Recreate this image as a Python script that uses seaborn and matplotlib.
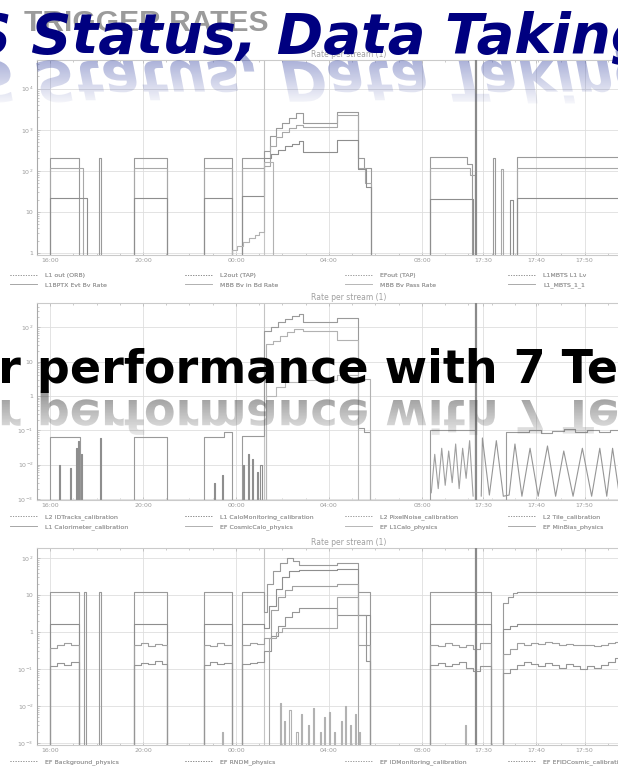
import matplotlib
matplotlib.use("Agg")
import numpy as np
import matplotlib.pyplot as plt
import seaborn as sns
from matplotlib.textpath import TextPath
from matplotlib.font_manager import FontProperties
from matplotlib.patches import PathPatch
from matplotlib.transforms import Affine2D
from matplotlib.lines import Line2D
from matplotlib.ticker import MultipleLocator

sns.set_theme(style="white")
plt.rcParams["font.family"] = ["DejaVu Sans"]

W, H, DPI = 618, 771, 100

# ---------------- time axis (hours, 24 = midnight) ----------------
hour_ticks = [16, 20, 24, 28, 32, 34.62, 36.9, 39.0]
hour_labels = ["16:00", "20:00", "00:00", "04:00", "08:00", "17:30", "17:40", "17:50"]
run_start = 25.2
view_split = 34.32

# ---------------- panel 1: level rates ----------------
OFF1 = 0.5
l1out_t = [15.4, 16.0, 17.25, 18.1, 18.2, 19.61, 21.03, 22.62, 23.83, 24.26, 25.2, 25.45, 25.7, 26.0,
           26.3, 26.6, 26.9, 28.34, 29.25, 29.5, 29.8, 32.34, 33.95, 34.15, 35.05, 35.15, 36.1, 40.6]
l1out_v = [OFF1, 210, OFF1, 210, OFF1, 205, OFF1, 205, OFF1, 210, 300, 700, 1100, 1500,
           1900, 2500, 1480, 2750, 200, 120, OFF1, 220, 150, OFF1, 200, OFF1, 215, 215]
l2out_t = [15.4, 16.0, 17.4, 19.61, 21.03, 22.62, 23.83, 24.26, 25.2, 25.45, 25.7, 26.0, 26.3,
           26.6, 26.9, 28.34, 29.25, 29.55, 29.8, 32.34, 34.06, 34.3, 35.4, 35.5, 36.1, 40.6]
l2out_v = [OFF1, 118, OFF1, 115, OFF1, 115, OFF1, 118, 130, 400, 650, 900, 1100,
           1300, 1180, 2300, 120, 50, OFF1, 118, 80, OFF1, 110, OFF1, 118, 118]
efout_t = [15.4, 16.0, 17.6, 19.61, 21.03, 22.62, 23.83, 24.26, 25.2, 25.5, 25.8, 26.1, 26.4,
           26.7, 26.9, 28.34, 29.25, 29.6, 29.8, 32.34, 34.2, 35.8, 35.9, 36.1, 40.6]
efout_v = [OFF1, 22, OFF1, 22, OFF1, 22, OFF1, 25, 200, 260, 330, 400, 450,
           520, 290, 570, 110, 40, OFF1, 21, OFF1, 20, OFF1, 22, 22]
mbts_t = [15.4, 23.83, 24.05, 24.3, 24.55, 24.8, 25.0, 25.2, 25.6]
mbts_v = [OFF1, 1.2, 1.5, 1.9, 2.3, 2.8, 3.3, 165, OFF1]

legend_p1 = ["L1 out (ORB)", "L1BPTX Evt Bv Rate", "L2out (TAP)", "MBB Bv in Bd Rate",
             "EFout (TAP)", "MBB Bv Pass Rate", "L1MBTS L1 Lv", "L1_MBTS_1_1"]

# ---------------- panel 2: calibration streams ----------------
OFF2 = 10 ** -3.4
idtracks_t = [15.4, 16.0, 17.3, 19.61, 21.03, 22.62, 23.5, 23.83, 24.26, 25.2, 25.5, 25.8, 26.1, 26.4,
              26.7, 26.9, 28.34, 29.25, 29.5, 29.76, 32.34, 34.3, 35.6, 36.6, 37.1, 37.6, 38.1, 38.6,
              39.1, 39.6, 40.1, 40.6]
idtracks_v = [OFF2, 0.063, OFF2, 0.063, OFF2, 0.063, 0.09, OFF2, 0.07, 79, 100, 140, 180, 220,
              250, 145, 190, 0.12, 0.09, OFF2, 0.1, OFF2, 0.09, 0.1, 0.085, 0.095, 0.11, 0.09,
              0.1, 0.088, 0.1, 0.1]
calomon_t = [16.40, 16.85, 17.10, 17.20, 17.32, 18.15, 23.05, 23.40, 24.30, 24.50, 24.70, 24.90, 25.05]
calomon_v = [0.010, 0.008, 0.030, 0.050, 0.020, 0.060, 0.003, 0.005, 0.010, 0.020, 0.015, 0.006, 0.010]
pixnoise_t = [32.40, 32.55, 32.70, 32.85, 33.00, 33.15, 33.30, 33.45, 33.60, 33.75, 33.90, 34.05, 34.20]
pixnoise_v = [0.0015, 0.020, 0.0020, 0.030, 0.0025, 0.025, 0.0030, 0.040, 0.0020, 0.030, 0.0040, 0.050, 0.0012]
tile_t = [34.55, 34.60, 34.90, 35.20, 35.50, 35.75, 36.00, 36.30, 36.65, 37.00, 37.40, 37.75,
          38.10, 38.50, 38.90, 39.30, 39.65, 39.95, 40.20, 40.50]
tile_v = [0.0012, 0.06, 0.0013, 0.05, 0.0012, 0.0013, 0.04, 0.0012, 0.03, 0.0012, 0.035, 0.0012,
          0.025, 0.0012, 0.03, 0.0012, 0.03, 0.0012, 0.03, 0.0012]
cosmiccalo_t = [15.4, 25.3, 25.6, 25.9, 26.2, 26.5, 26.9, 28.34, 29.25, 29.76]
cosmiccalo_v = [OFF2, 32, 40, 56, 71, 89, 80, 44, 3.2, OFF2]
l1calo_t = [15.4, 25.3, 25.7, 26.1, 26.9, 28.34, 29.25]
l1calo_v = [OFF2, 1.0, 1.8, 2.5, 3.0, 4.0, OFF2]

legend_p2 = ["L2 IDTracks_calibration", "L1 Calorimeter_calibration",
             "L1 CaloMonitoring_calibration", "EF CosmicCalo_physics",
             "L2 PixelNoise_calibration", "EF L1Calo_physics",
             "L2 Tile_calibration", "EF MinBias_physics"]

# ---------------- panel 3: physics streams ----------------
OFF3 = 10 ** -3.5
bkg_t = [15.4, 16.0, 17.25, 17.45, 17.55, 18.1, 18.2, 19.61, 21.03, 22.62, 23.83, 24.26, 25.2, 25.35,
         25.6, 25.9, 26.2, 26.45, 26.7, 28.34, 29.25, 29.76, 32.34, 34.95, 35.5, 35.7, 35.9, 36.1, 40.6]
bkg_v = [OFF3, 12, OFF3, 12, OFF3, 12, OFF3, 12, OFF3, 12, OFF3, 12, 3.5, 20,
         45, 75, 100, 85, 65, 75, 12, OFF3, 12, OFF3, 6, 9, 11, 12, 12]
rndm_t = [15.4, 16.0, 17.25, 19.61, 21.03, 22.62, 23.83, 24.26, 25.2, 25.4, 25.7, 26.0, 26.3, 26.7,
          28.34, 29.25, 29.76, 32.34, 34.95, 35.5, 35.8, 36.1, 40.6]
rndm_v = [OFF3, 1.6, OFF3, 1.6, OFF3, 1.6, OFF3, 1.6, 1.3, 5, 15, 30, 45, 47,
          50, 2.9, OFF3, 1.6, OFF3, 1.2, 1.5, 1.7, 1.7]
idmon_t = [15.4, 16.0, 16.3, 16.6, 16.9, 17.25, 19.61, 19.9, 20.2, 20.5, 20.8, 21.03,
           22.62, 22.9, 23.2, 23.5, 23.83, 24.26, 24.6, 24.9, 25.2, 25.5, 25.8, 26.1, 26.4, 26.7,
           28.34, 29.25, 29.76, 32.34, 32.7, 33.0, 33.3, 33.6, 33.9, 34.2, 34.5, 34.95,
           35.5, 35.8, 36.1, 36.4, 36.7, 37.0, 37.3, 37.6, 37.9, 38.2, 38.5, 38.8, 39.1, 39.4,
           39.7, 40.0, 40.3, 40.6]
idmon_v = [OFF3, 0.38, 0.45, 0.5, 0.44, OFF3, 0.45, 0.5, 0.43, 0.48, 0.45, OFF3,
           0.45, 0.42, 0.5, 0.46, OFF3, 0.44, 0.5, 0.47, 0.7, 4, 9, 14, 18, 18,
           20, 0.45, OFF3, 0.45, 0.42, 0.5, 0.46, 0.4, 0.44, 0.35, 0.5, OFF3,
           0.25, 0.35, 0.5, 0.45, 0.52, 0.47, 0.55, 0.5, 0.45, 0.48, 0.44, 0.46, 0.45, 0.42,
           0.45, 0.5, 0.55, 0.55]
efid_t = [15.4, 16.0, 16.3, 16.6, 16.9, 17.25, 19.61, 19.9, 20.2, 20.5, 20.8, 21.03,
          22.62, 22.9, 23.2, 23.5, 23.83, 24.26, 24.6, 24.9, 25.2, 25.5, 25.8, 26.1, 26.4, 26.7,
          28.34, 29.25, 29.6, 29.76, 32.34, 32.7, 33.0, 33.3, 33.6, 33.9, 34.2, 34.5, 34.95,
          35.5, 35.8, 36.1, 36.4, 36.7, 37.0, 37.3, 37.6, 37.9, 38.2, 38.5, 38.8, 39.1, 39.4,
          39.7, 40.0, 40.3, 40.6]
efid_v = [OFF3, 0.12, 0.15, 0.13, 0.16, OFF3, 0.13, 0.15, 0.14, 0.17, 0.14, OFF3,
          0.13, 0.16, 0.14, 0.15, OFF3, 0.14, 0.15, 0.16, 0.3, 0.8, 1.5, 2.5, 3.5, 4.4,
          2.9, 2.9, 0.17, OFF3, 0.13, 0.15, 0.12, 0.14, 0.16, 0.11, 0.09, 0.12, OFF3,
          0.08, 0.1, 0.13, 0.16, 0.14, 0.12, 0.15, 0.13, 0.11, 0.14, 0.12, 0.1, 0.12, 0.11,
          0.13, 0.16, 0.2, 0.2]
standby_t = [15.4, 25.4, 25.7, 26.0, 26.7, 28.34, 29.25]
standby_v = [OFF3, 0.7, 1.0, 1.3, 1.3, 9, OFF3]
muons_t = [23.4, 25.9, 26.05, 26.3, 26.6, 26.8, 27.1, 27.3, 27.6, 27.8, 28.0, 28.2, 28.5, 28.7,
           28.9, 29.1, 29.3, 33.85]
muons_v = [0.002, 0.012, 0.004, 0.008, 0.002, 0.006, 0.003, 0.009, 0.002, 0.005, 0.007, 0.002,
           0.004, 0.01, 0.003, 0.006, 0.002, 0.003]

# only the first legend row of the bottom panel fits on the page
legend_p3 = ["EF Background_physics", "EF RNDM_physics",
             "EF IDMonitoring_calibration", "EF EFIDCosmic_calibration"]

GREYS = ["#9a9a9a", "#a8a8a8", "#8e8e8e", "#b2b2b2", "#a0a0a0", "#b8b8b8", "#969696", "#acacac"]


def pulses(times, heights, floor, width=0.05):
    t, v = [15.4], [floor]
    for a, h in zip(times, heights):
        t += [a, a + width]
        v += [h, floor]
    return t, v


def rect(top_px, bottom_px, left_px=37, right_px=660):
    return [left_px / W, 1 - bottom_px / H, (right_px - left_px) / W, (bottom_px - top_px) / H]


def draw(ax, t, v, color, step=True, lw=0.8):
    kw = {"drawstyle": "steps-post"} if step else {}
    sns.lineplot(x=t, y=v, ax=ax, color=color, lw=lw, estimator=None, sort=False,
                 legend=False, **kw)


def style(ax, ylim, yticks, ylabels):
    ax.set_yscale("log")
    ax.set_xlim(15.44, 42.24)
    ax.set_ylim(*ylim)
    ax.set_yticks(yticks)
    ax.set_yticklabels(ylabels)
    ax.set_xticks(hour_ticks)
    ax.set_xticklabels(hour_labels)
    ax.xaxis.set_minor_locator(MultipleLocator(1))
    ax.set_xlabel("")
    ax.set_ylabel("")
    ax.grid(True, which="major", color="#dedede", lw=0.6)
    ax.tick_params(axis="both", which="both", direction="in", colors="#b4b4b4",
                   labelcolor="#9c9c9c", labelsize=4.5, top=True, bottom=True, left=True,
                   length=2.5, width=0.5, pad=2.5)
    ax.tick_params(which="minor", length=1.4)
    for s in ax.spines.values():
        s.set_color("#cacaca")
        s.set_linewidth(0.8)
    ax.spines["left"].set_color("#a9a9a9")
    ax.axvline(run_start, color="#c4c4c4", lw=0.8, zorder=1)
    ax.axvline(view_split, color="#8a8a8a", lw=1.6, zorder=3)
    ax.set_title("Rate per stream (1)", fontsize=5.5, color="#a0a0a0", pad=2)


def legend_block(fig, labels, colors, top_px, rows=2):
    xs = [10, 185, 345, 508]
    for c in range(4):
        entries = labels[rows * c:rows * c + rows]
        styles = [":", "-"][:rows]
        hs = [Line2D([], [], color=colors[2 * c + k], lw=0.7, ls=styles[k])
              for k in range(len(entries))]
        leg = fig.legend(hs, entries, loc="upper left",
                         bbox_to_anchor=(xs[c] / W, 1 - top_px / H), frameon=False,
                         fontsize=4.5, handlelength=4.3, handletextpad=1.3, borderpad=0,
                         borderaxespad=0, labelspacing=0.6, labelcolor="#9c9c9c")
        fig.add_artist(leg)


fig = plt.figure(figsize=(W / DPI, H / DPI), dpi=DPI)
fig.patch.set_facecolor("white")

# panel 1
ax1 = fig.add_axes(rect(60, 255))
for (t, v), c in zip([(l1out_t, l1out_v), (l2out_t, l2out_v), (efout_t, efout_v),
                      (mbts_t, mbts_v)], GREYS):
    draw(ax1, t, v, c)
style(ax1, (10 ** -0.05, 10 ** 4.7), [1, 10, 1e2, 1e3, 1e4],
      ["1", "10", "$10^{2}$", "$10^{3}$", "$10^{4}$"])
legend_block(fig, legend_p1, GREYS, 273)

# panel 2
ax2 = fig.add_axes(rect(303, 500))
draw(ax2, idtracks_t, idtracks_v, GREYS[0])
ct, cv = pulses(calomon_t, calomon_v, OFF2)
draw(ax2, ct, cv, GREYS[2])
draw(ax2, pixnoise_t, pixnoise_v, GREYS[4], step=False)
draw(ax2, tile_t, tile_v, GREYS[6], step=False)
draw(ax2, cosmiccalo_t, cosmiccalo_v, GREYS[3])
draw(ax2, l1calo_t, l1calo_v, GREYS[5])
style(ax2, (10 ** -3.03, 10 ** 2.71), [1e-3, 1e-2, 1e-1, 1, 10, 1e2],
      ["$10^{-3}$", "$10^{-2}$", "$10^{-1}$", "1", "10", "$10^{2}$"])
legend_block(fig, legend_p2, GREYS, 514)

# panel 3
ax3 = fig.add_axes(rect(548, 745))
draw(ax3, bkg_t, bkg_v, GREYS[0])
draw(ax3, rndm_t, rndm_v, GREYS[2])
draw(ax3, idmon_t, idmon_v, GREYS[4])
draw(ax3, efid_t, efid_v, GREYS[6])
draw(ax3, standby_t, standby_v, GREYS[1])
mt, mv = pulses(muons_t, muons_v, OFF3)
draw(ax3, mt, mv, GREYS[3])
style(ax3, (10 ** -3.05, 10 ** 2.27), [1e-3, 1e-2, 1e-1, 1, 10, 1e2],
      ["$10^{-3}$", "$10^{-2}$", "$10^{-1}$", "1", "10", "$10^{2}$"])
legend_block(fig, legend_p3, GREYS, 759, rows=1)

# ---------------- slide headings over the charts ----------------
ov = fig.add_axes([0, 0, 1, 1], zorder=10)
ov.set_xlim(0, W)
ov.set_ylim(H, 0)
ov.set_axis_off()

fp_head = FontProperties(family="Liberation Sans", weight="bold")
ov.text(24, 31, "TRIGGER RATES", fontproperties=fp_head, fontsize=21.6, color="#9b9b9b",
        va="baseline", ha="left", zorder=1)

title_full = "ATLAS Status, Data Taking, Performance"
title_tail = "Status, Data Taking, Performance"
sub_full = "Trigger performance with 7 TeV collisions"
sub_tail = "r performance with 7 TeV collisions"

fp_title = FontProperties(family="DejaVu Sans", weight="bold", style="oblique")
fp_sub = FontProperties(family="DejaVu Sans", weight="bold")
EM_TITLE, EM_SUB = 56, 46

renderer = fig.canvas.get_renderer()


def place(full, tail, x_tail, baseline, fp, em, color):
    probe = ov.text(0, baseline, tail, fontproperties=fp, fontsize=em * 72 / DPI,
                    va="baseline", ha="left")
    w_tail = probe.get_window_extent(renderer).width
    probe.remove()
    txt = ov.text(x_tail + w_tail, baseline, full, fontproperties=fp, fontsize=em * 72 / DPI,
                  va="baseline", ha="right", color=color, zorder=4)
    return txt


def mirror(txt, s, fp, em, y_mirror, depth, rgb, a0):
    bb = txt.get_window_extent(renderer)
    tp = TextPath((0, 0), s, size=em, prop=fp)
    ext = tp.get_extents()
    sx = bb.width / ext.width
    tr = Affine2D().translate(-ext.x0, 0).scale(sx, sx).translate(bb.x0, y_mirror)
    patch = PathPatch(tr.transform_path(tp), facecolor="none", edgecolor="none",
                      transform=ov.transData)
    ov.add_patch(patch)
    n = 96
    grad = np.zeros((n, 1, 4))
    grad[..., :3] = rgb
    grad[:, 0, 3] = np.linspace(a0, 0.0, n)
    top = y_mirror - 0.3 * em
    im = ov.imshow(grad, extent=(0, W, y_mirror + depth, top), aspect="auto",
                   interpolation="bilinear", zorder=2)
    im.set_clip_path(patch)


t_title = place(title_full, title_tail, 32, 53, fp_title, EM_TITLE, "#000080")
t_sub = place(sub_full, sub_tail, -2, 383, fp_sub, EM_SUB, "#000000")
mirror(t_title, title_full, fp_title, EM_TITLE, 61, 48, (0.30, 0.35, 0.68), 0.62)
mirror(t_sub, sub_full, fp_sub, EM_SUB, 400, 46, (0.25, 0.25, 0.25), 0.62)

ov.set_xlim(0, W)
ov.set_ylim(H, 0)

fig.savefig("out.png", dpi=DPI, facecolor="white")
